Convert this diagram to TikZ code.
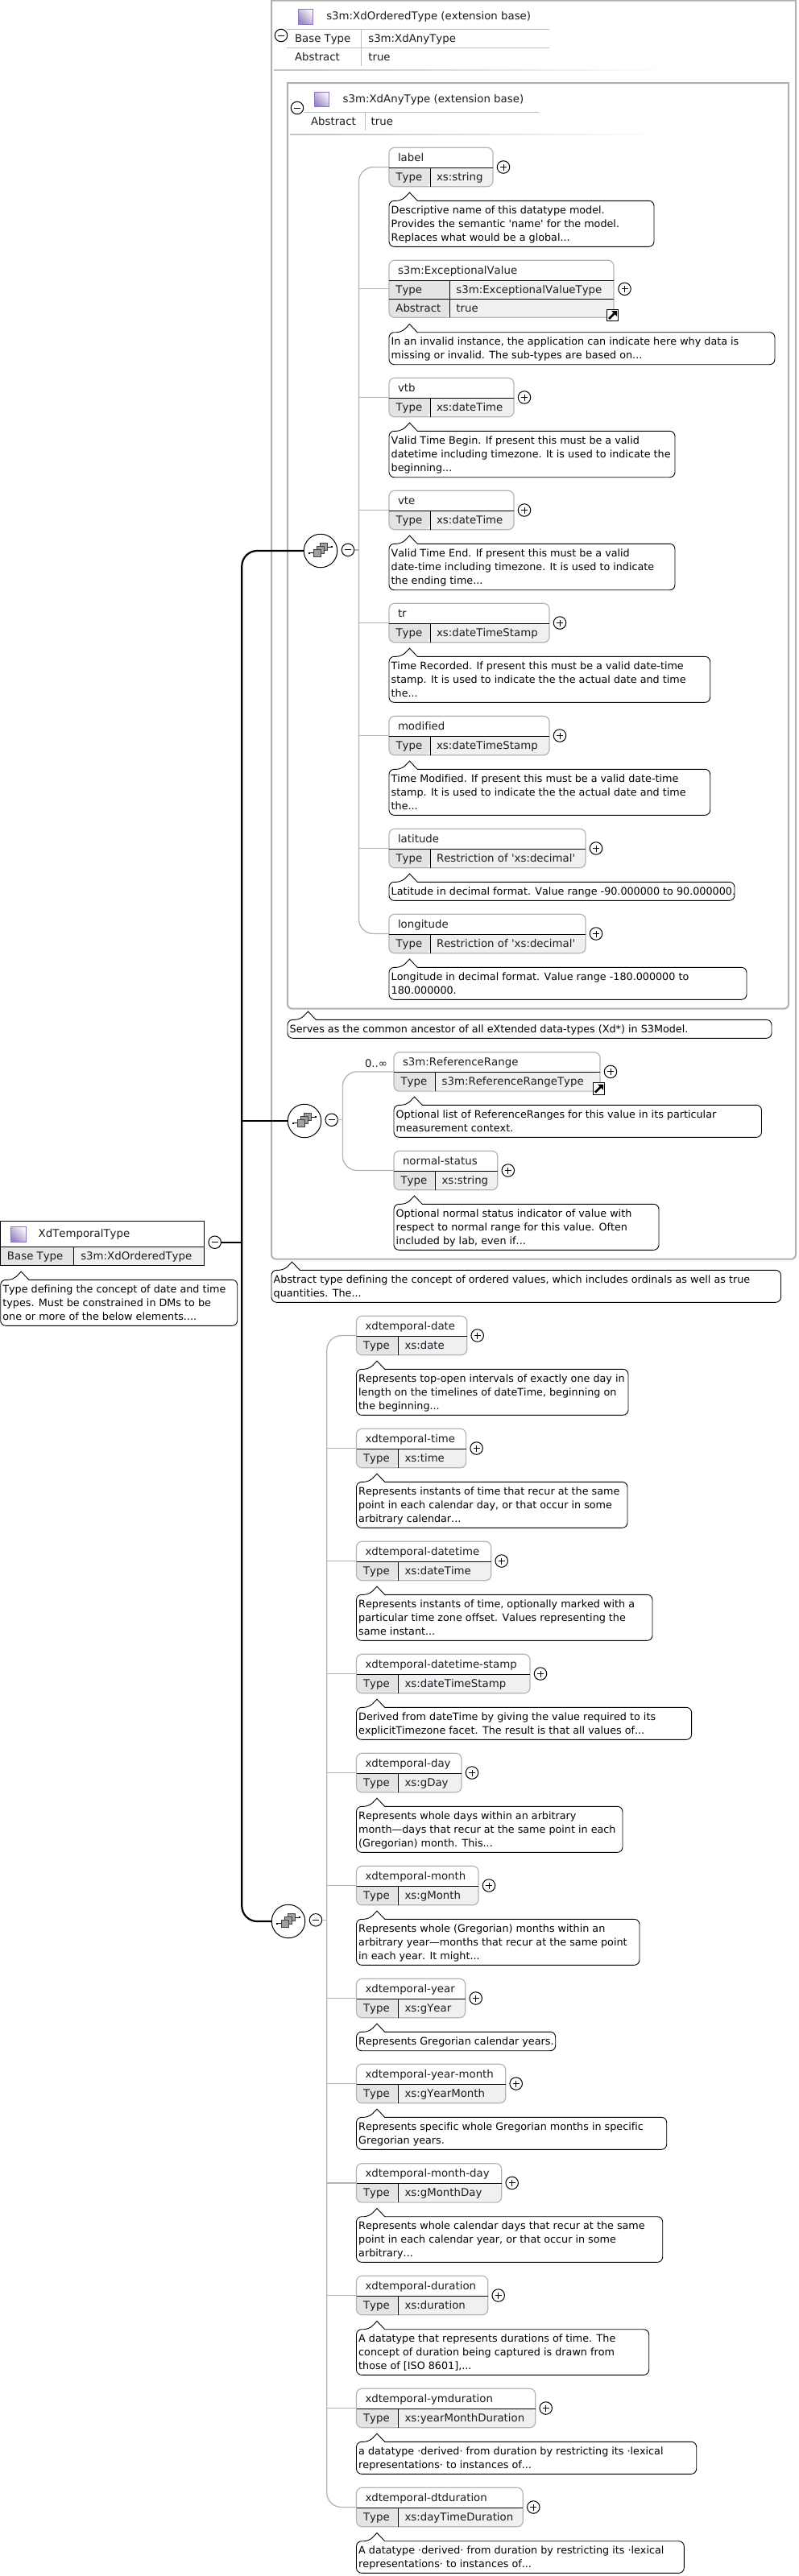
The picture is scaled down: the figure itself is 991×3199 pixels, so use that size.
\documentclass[tikz,border=0pt]{standalone}
\usepackage{fontspec}
\usetikzlibrary{calc}
\newfontfamily\djv{DejaVu Sans}[Ligatures=NoCommon,Kerning=Off]
\definecolor{cellA}{HTML}{E4E4E4}
\definecolor{cellB}{HTML}{F0F0F0}
\definecolor{boxline}{HTML}{B4B4B4}
\definecolor{groupline}{HTML}{B0B0B0}
\definecolor{rowline}{HTML}{BEBEBE}
\definecolor{inkc}{HTML}{1C1C24}
\definecolor{iconA}{HTML}{F8F6FC}
\definecolor{iconB}{HTML}{9A86C4}
\definecolor{iconE}{HTML}{8C78B8}
\definecolor{sqfill}{HTML}{A0A0A0}
\definecolor{sqline}{HTML}{404040}
\tikzset{
  every node/.style={font=\djv\fontsize{13.33}{17}\selectfont,inner sep=0pt,outer sep=0pt,text=inkc},
  txt/.style={anchor=base west},
  cmttxt/.style={anchor=north west,align=left,text=black,font=\djv\fontsize{12.75}{17}\selectfont},
  elembox/.style={draw=boxline,line width=1.2pt,rounded corners=7pt,anchor=north west},
  cmtline/.style={draw=black,fill=white,line width=0.9pt,rounded corners=6.5pt},
  conn/.style={draw=boxline,line width=1.3pt},
  bold/.style={draw=black,line width=2.2pt},
  sepline/.style={draw=black,line width=0.9pt},
  rowrule/.style={draw=rowline,line width=1pt},
  grp/.style={draw=groupline,line width=2pt},
  xcircle/.style={circle,draw=black,fill=white,line width=1pt,minimum size=15.5pt},
  plusn/.style={xcircle,path picture={
    \draw[line width=0.9pt] ([xshift=-4pt]path picture bounding box.center) -- ([xshift=4pt]path picture bounding box.center);
    \draw[line width=0.9pt] ([yshift=-4pt]path picture bounding box.center) -- ([yshift=4pt]path picture bounding box.center);}},
  minusn/.style={xcircle,path picture={
    \draw[line width=0.9pt] ([xshift=-4pt]path picture bounding box.center) -- ([xshift=4pt]path picture bounding box.center);}},
  compn/.style={circle,draw=black,fill=white,line width=1pt,minimum size=41.5pt},
  sq/.style={draw=sqline,fill=sqfill,line width=.8pt},
  typeicon/.style={draw=iconE,line width=1pt,left color=iconA,right color=iconB,shading angle=-45},
  linkn/.style={draw=black,fill=white,line width=1pt,minimum size=14.5pt,path picture={
    \draw[black,line width=2.6pt] ($(path picture bounding box.center)+(-4.5pt,-4.5pt)$) -- ($(path picture bounding box.center)+(2pt,2pt)$);
    \fill[black] ($(path picture bounding box.center)+(-1.5pt,5.5pt)$) -- ($(path picture bounding box.center)+(5.5pt,5.5pt)$) -- ($(path picture bounding box.center)+(5.5pt,-1.5pt)$) -- cycle;}},
}
% #1 id, #2 L, #3 T, #4 R, #5 D, #6 title, #7 value
\newcommand{\xelem}[7]{%
  \fill[cellA] ({#2},{#3+25}) [rounded corners=7pt] -- ({#2},{#3+48.4}) -- ({#5},{#3+48.4}) [sharp corners] -- ({#5},{#3+25}) -- cycle;
  \fill[cellB] ({#5},{#3+25}) -- ({#5},{#3+48.4}) [rounded corners=7pt] -- ({#4},{#3+48.4}) -- ({#4},{#3+25}) [sharp corners] -- cycle;
  \node[elembox,minimum width={(#4-#2)*1pt},minimum height=48.4pt] (#1) at ({#2},{#3}) {};
  \draw[sepline] ({#2},{#3+25}) -- ({#4},{#3+25});
  \draw[sepline] ({#5},{#3+25}) -- ({#5},{#3+48.4});
  \node[txt] (#1-t) at ({#2+11},{#3+17}) {#6};
  \node[txt] (#1-k) at ({#2+8.5},{#3+41}) {Type};
  \node[txt] (#1-v) at ({#5+8},{#3+41}) {#7};
  \node[plusn] (#1-p) at ([xshift=13pt]#1.east) {};
}
% #1 id, #2 L, #3 T, #4 R, #5 B, #6 text
\newcommand{\xcmt}[6]{%
  \draw[cmtline] ({#2+35.2},{#3}) -- ({#4},{#3}) -- ({#4},{#5}) -- ({#2},{#5}) -- ({#2},{#3}) -- ({#2+15.8},{#3}) [sharp corners] -- ({#2+25.5},{#3-10.2}) -- cycle;
  \node[cmttxt] (#1) at ({#2+2.7},{#3+4}) {\rule{0pt}{12pt}#6};
}
% #1 id, #2 x, #3 y
\newcommand{\xcomp}[3]{%
  \node[compn] (#1) at ({#2},{#3}) {};
  \begin{scope}[shift={(#1.center)}]
    \draw[black,line width=1pt] (-14,2.7) -- (-8,2.7);
    \draw[black,line width=1pt] (8,-5) -- (14,-5);
    \fill[black] (-14.7,1.7) rectangle (-12.7,3.7);
    \fill[black] (12.7,-6) rectangle (14.7,-4);
    \draw[sq] (-.7,-10) rectangle (8.3,-1);
    \draw[sq] (-4.7,-5.7) rectangle (4.3,3.3);
    \draw[sq] (-8.7,-1.5) rectangle (.3,7.5);
  \end{scope}
}
\begin{document}
\begin{tikzpicture}[x=1pt,y=-1pt]
\useasboundingbox (0,0) rectangle (991,3199);
\fill[white] (0,0) rectangle (991,3199);

% outer extension group
\draw[grp] (337,0.7) -- (988,0.7) [rounded corners=6pt] -- (988,1563.7) -- (337,1563.7) [sharp corners] -- cycle;
\path[typeicon] (370.3,11) rectangle (388.7,30);
\node[txt] (ordtitle) at (405.3,24.3) {s3m:XdOrderedType (extension base)};
\draw[rowrule] (356,36) -- (682,36);
\draw[rowrule] (356,59.5) -- (682,59.5);
\draw[rowrule] (448.5,36) -- (448.5,82);
\node[txt] (ordbk) at (366,52.3) {Base Type};
\node[txt] (ordbv) at (457.3,52.3) {s3m:XdAnyType};
\node[txt] (ordak) at (366,75.3) {Abstract};
\node[txt] (ordav) at (457.3,75.3) {true};
\node[minusn] (ordm) at (349,44) {};
\shade[left color=black!24,right color=white] (340,86.2) rectangle (830,87.8);

% inner extension group
\draw[grp] (357,103) -- (979,103) [rounded corners=6pt] -- (979,1252.7) -- (357,1252.7) [sharp corners] -- cycle;
\path[typeicon] (390.3,114) rectangle (408.7,132.7);
\node[txt] (anytitle) at (425.7,127.3) {s3m:XdAnyType (extension base)};
\draw[rowrule] (377,139.3) -- (669,139.3);
\draw[rowrule] (453,139.3) -- (453,162);
\node[txt] (anyak) at (386,155) {Abstract};
\node[txt] (anyav) at (460.7,155) {true};
\node[minusn] (anym) at (369,134) {};
\shade[left color=black!24,right color=white] (360,166.2) rectangle (820,167.8);

% group 1 elements
\xelem{label}{483}{183.3}{612}{534}{label}{xs:string}
\xcmt{label-c}{483}{249.3}{812}{306.3}{Descriptive name of this datatype model.\\Provides the semantic 'name' for the model.\\Replaces what would be a global...}

\fill[cellA] (483,348.3) rectangle (558,371);
\fill[cellB] (558,348.3) rectangle (762,371);
\fill[cellA] (483,371) [rounded corners=7pt] -- (483,394.3) -- (558,394.3) [sharp corners] -- (558,371) -- cycle;
\fill[cellB] (558,371) -- (558,394.3) [rounded corners=7pt] -- (762,394.3) -- (762,371) [sharp corners] -- cycle;
\node[elembox,minimum width=279pt,minimum height=71pt] (exc) at (483,323.3) {};
\draw[sepline] (483,348.3) -- (762,348.3);
\draw[sepline] (483,371) -- (762,371);
\draw[sepline] (558,348.3) -- (558,394.3);
\node[txt] (exc-t) at (494,340.3) {s3m:ExceptionalValue};
\node[txt] (exc-k) at (491.4,364.3) {Type};
\node[txt] (exc-v) at (566.4,364.3) {s3m:ExceptionalValueType};
\node[txt] (exc-k2) at (491.4,387) {Abstract};
\node[txt] (exc-v2) at (566.4,387) {true};
\node[plusn] (exc-p) at ([xshift=13.5pt]exc.east) {};
\node[linkn] (exc-l) at (760.5,391.5) {};
\xcmt{exc-c}{483}{412.7}{962}{452.7}{In an invalid instance, the application can indicate here why data is\\missing or invalid. The sub-types are based on...}

\xelem{vtb}{483}{469.3}{638}{534}{vtb}{xs:dateTime}
\xcmt{vtb-c}{483}{535.3}{838}{592.7}{Valid Time Begin. If present this must be a valid\\datetime including timezone. It is used to indicate the\\beginning...}
\xelem{vte}{483}{609.3}{638}{534}{vte}{xs:dateTime}
\xcmt{vte-c}{483}{675.3}{838}{732.7}{Valid Time End. If present this must be a valid\\date-time including timezone. It is used to indicate\\the ending time...}
\xelem{tr}{483}{749.3}{682}{534}{tr}{xs:dateTimeStamp}
\xcmt{tr-c}{483}{815.3}{881.7}{872.3}{Time Recorded. If present this must be a valid date-time\\stamp. It is used to indicate the the actual date and time\\the...}
\xelem{modified}{483}{889.3}{682}{534}{modified}{xs:dateTimeStamp}
\xcmt{modified-c}{483}{955.3}{881.7}{1012.3}{Time Modified. If present this must be a valid date-time\\stamp. It is used to indicate the the actual date and time\\the...}
\xelem{latitude}{483}{1029.3}{727}{534}{latitude}{Restriction of 'xs:decimal'}
\xcmt{latitude-c}{483}{1095.3}{912}{1118.3}{Latitude in decimal format. Value range -90.000000 to 90.000000.}
\xelem{longitude}{483}{1135.3}{727}{534}{longitude}{Restriction of 'xs:decimal'}
\xcmt{longitude-c}{483}{1201.3}{927}{1241.3}{Longitude in decimal format. Value range -180.000000 to\\180.000000.}
\xcmt{any-c}{357}{1266.3}{958}{1289.3}{Serves as the common ancestor of all eXtended data-types (Xd*) in S3Model.}

% group 2 elements
\xelem{refr}{489}{1306.7}{745}{540.6}{s3m:ReferenceRange}{s3m:ReferenceRangeType}
\node[linkn] (refr-l) at (743.5,1352) {};
\node[txt,text=inkc] (refr-o) at (453,1325) {0..∞};
\xcmt{refr-c}{489}{1372.3}{945.5}{1412.3}{Optional list of ReferenceRanges for this value in its particular\\measurement context.}
\xelem{norm}{489}{1429.3}{617.8}{540.6}{normal-status}{xs:string}
\xcmt{norm-c}{489}{1495.3}{818}{1552.3}{Optional normal status indicator of value with\\respect to normal range for this value. Often\\included by lab, even if...}
\xcmt{ord-c}{337}{1577.3}{969.5}{1617.3}{Abstract type defining the concept of ordered values, which includes ordinals as well as true\\quantities. The...}

% root
\fill[cellA] (0.7,1548.3) rectangle (91.3,1571.3);
\fill[cellB] (91.3,1548.3) rectangle (253.7,1571.3);
\node[draw=black,line width=1.1pt,anchor=north west,minimum width=253pt,minimum height=54.6pt] (root) at (0.7,1516.7) {};
\draw[sepline] (0.7,1548.3) -- (253.7,1548.3);
\draw[sepline] (91.3,1548.3) -- (91.3,1571.3);
\path[typeicon] (13.3,1523.3) rectangle (32,1542);
\node[txt] (root-t) at (47.7,1536) {XdTemporalType};
\node[txt] (root-k) at (9,1564.3) {Base Type};
\node[txt] (root-v) at (100.3,1564.3) {s3m:XdOrderedType};
\node[minusn] (root-m) at (266.7,1542.7) {};
\xcmt{root-c}{0.7}{1589.3}{294.7}{1646.3}{Type defining the concept of date and time\\types. Must be constrained in DMs to be\\one or more of the below elements....}

% group 3 elements
\xelem{date}{442.5}{1634.3}{579.7}{494.5}{xdtemporal-date}{xs:date}
\xcmt{date-c}{442.5}{1700.3}{780}{1757.3}{Represents top-open intervals of exactly one day in\\length on the timelines of dateTime, beginning on\\the beginning...}
\xelem{time}{442.5}{1774.3}{578.6}{494.5}{xdtemporal-time}{xs:time}
\xcmt{time-c}{442.5}{1840.3}{779}{1897.3}{Represents instants of time that recur at the same\\point in each calendar day, or that occur in some\\arbitrary calendar...}
\xelem{dtime}{442.5}{1914.3}{609.7}{494.5}{xdtemporal-datetime}{xs:dateTime}
\xcmt{dtime-c}{442.5}{1980.3}{810}{2037.3}{Represents instants of time, optionally marked with a\\particular time zone offset. Values representing the\\same instant...}
\xelem{stamp}{442.5}{2054.3}{658}{494.5}{xdtemporal-datetime-stamp}{xs:dateTimeStamp}
\xcmt{stamp-c}{442.5}{2120.3}{858.6}{2160.3}{Derived from dateTime by giving the value required to its\\explicitTimezone facet. The result is that all values of...}
\xelem{day}{442.5}{2177.3}{573}{494.5}{xdtemporal-day}{xs:gDay}
\xcmt{day-c}{442.5}{2243.3}{773}{2300.3}{Represents whole days within an arbitrary\\month—days that recur at the same point in each\\(Gregorian) month. This...}
\xelem{month}{442.5}{2317.3}{594}{494.5}{xdtemporal-month}{xs:gMonth}
\xcmt{month-c}{442.5}{2383.3}{794}{2440.3}{Represents whole (Gregorian) months within an\\arbitrary year—months that recur at the same point\\in each year. It might...}
\xelem{year}{442.5}{2457.3}{577.7}{494.5}{xdtemporal-year}{xs:gYear}
\xcmt{year-c}{442.5}{2523.3}{689.7}{2546.7}{Represents Gregorian calendar years.}
\xelem{ym}{442.5}{2563.3}{627.7}{494.5}{xdtemporal-year-month}{xs:gYearMonth}
\xcmt{ym-c}{442.5}{2629.3}{827.7}{2669.3}{Represents specific whole Gregorian months in specific\\Gregorian years.}
\xelem{md}{442.5}{2686.7}{622.7}{494.5}{xdtemporal-month-day}{xs:gMonthDay}
\xcmt{md-c}{442.5}{2752.7}{822.7}{2809.3}{Represents whole calendar days that recur at the same\\point in each calendar year, or that occur in some\\arbitrary...}
\xelem{dur}{442.5}{2826.3}{605.7}{494.5}{xdtemporal-duration}{xs:duration}
\xcmt{dur-c}{442.5}{2892.7}{805.7}{2949.3}{A datatype that represents durations of time. The\\concept of duration being captured is drawn from\\those of [ISO 8601],...}
\xelem{ymd}{442.5}{2966.3}{664.7}{494.5}{xdtemporal-ymduration}{xs:yearMonthDuration}
\xcmt{ymd-c}{442.5}{3032.3}{864.7}{3072.3}{a datatype ·derived· from duration by restricting its ·lexical\\representations· to instances of...}
\xelem{dtd}{442.5}{3089.3}{649.3}{494.5}{xdtemporal-dtduration}{xs:dayTimeDuration}
\xcmt{dtd-c}{442.5}{3155.7}{849.3}{3195.3}{A datatype ·derived· from duration by restricting its ·lexical\\representations· to instances of...}

% compositors
\xcomp{compa}{398}{684}
\xcomp{compb}{378}{1392}
\xcomp{compc}{358}{2386}
\node[minusn] (compa-m) at (432,682.9) {};
\node[minusn] (compb-m) at (411.7,1390.7) {};
\node[minusn] (compc-m) at (392,2384.3) {};

\coordinate (tka) at (445.5,683);
\coordinate (tkb) at (425.4,1391);
\coordinate (tkc) at (405.8,2385);
\coordinate (tk) at (300.3,1542.7);

% connectors, group 1
\draw[conn,rounded corners=18pt] (label.west) -- (tka |- label.west) -- (tka |- longitude.west) -- (longitude.west);
\foreach \n in {exc,vtb,vte,tr,modified,latitude} \draw[conn] (\n.west) -- (tka |- \n.west);
\draw[conn] (compa-m.east) -- (tka |- compa-m.east);
% connectors, group 2
\draw[conn,rounded corners=18pt] (refr.west) -- (tkb |- refr.west) -- (tkb |- norm.west) -- (norm.west);
\draw[conn] (compb-m.east) -- (tkb |- compb-m.east);
% connectors, group 3
\draw[conn,rounded corners=18pt] (date.west) -- (tkc |- date.west) -- (tkc |- dtd.west) -- (dtd.west);
\foreach \n in {time,dtime,stamp,day,month,year,ym,md,dur,ymd} \draw[conn] (\n.west) -- (tkc |- \n.west);
\draw[conn] (compc-m.east) -- (tkc |- compc-m.east);
% main trunk
\draw[bold,rounded corners=19pt] (compa.west) -- (tk |- compa.west) -- (tk |- compc.west) -- (compc.west);
\draw[bold] (compb.west) -- (tk |- compb.west);
\draw[bold] (root-m.east) -- (tk);
\end{tikzpicture}
\end{document}
